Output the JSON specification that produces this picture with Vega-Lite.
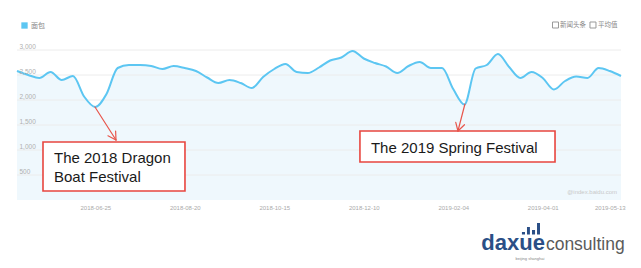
{
  "$schema": "https://vega.github.io/schema/vega-lite/v6.json",
  "width": 604,
  "height": 150,
  "autosize": {"type": "none"},
  "padding": {"left": 17, "top": 50, "right": 20, "bottom": 68},
  "background": "white",
  "config": {"view": {"stroke": null}, "axisY": {"labelOverlap": false}, "axisX": {"labelOverlap": false}},
  "datasets": {
    "series": [
      {"date": "2018-05-07", "value": 2580},
      {"date": "2018-05-14", "value": 2500},
      {"date": "2018-05-21", "value": 2440},
      {"date": "2018-05-28", "value": 2560},
      {"date": "2018-06-04", "value": 2400},
      {"date": "2018-06-11", "value": 2480},
      {"date": "2018-06-18", "value": 2070},
      {"date": "2018-06-25", "value": 1860},
      {"date": "2018-07-02", "value": 2120},
      {"date": "2018-07-09", "value": 2640},
      {"date": "2018-07-16", "value": 2700},
      {"date": "2018-07-23", "value": 2700},
      {"date": "2018-07-30", "value": 2680},
      {"date": "2018-08-06", "value": 2620},
      {"date": "2018-08-13", "value": 2680},
      {"date": "2018-08-20", "value": 2640},
      {"date": "2018-08-27", "value": 2580},
      {"date": "2018-09-03", "value": 2450},
      {"date": "2018-09-10", "value": 2340},
      {"date": "2018-09-17", "value": 2400},
      {"date": "2018-09-24", "value": 2340},
      {"date": "2018-10-01", "value": 2240},
      {"date": "2018-10-08", "value": 2460},
      {"date": "2018-10-15", "value": 2620},
      {"date": "2018-10-22", "value": 2720},
      {"date": "2018-10-29", "value": 2560},
      {"date": "2018-11-05", "value": 2540},
      {"date": "2018-11-12", "value": 2650},
      {"date": "2018-11-19", "value": 2790},
      {"date": "2018-11-26", "value": 2850},
      {"date": "2018-12-03", "value": 2980},
      {"date": "2018-12-10", "value": 2830},
      {"date": "2018-12-17", "value": 2740},
      {"date": "2018-12-24", "value": 2670},
      {"date": "2018-12-31", "value": 2540},
      {"date": "2019-01-07", "value": 2680},
      {"date": "2019-01-14", "value": 2760},
      {"date": "2019-01-21", "value": 2640},
      {"date": "2019-01-28", "value": 2640},
      {"date": "2019-02-04", "value": 2220},
      {"date": "2019-02-11", "value": 1910},
      {"date": "2019-02-18", "value": 2630},
      {"date": "2019-02-25", "value": 2700},
      {"date": "2019-03-04", "value": 2920},
      {"date": "2019-03-11", "value": 2660},
      {"date": "2019-03-18", "value": 2440},
      {"date": "2019-03-25", "value": 2560},
      {"date": "2019-04-01", "value": 2440},
      {"date": "2019-04-08", "value": 2210},
      {"date": "2019-04-15", "value": 2380},
      {"date": "2019-04-22", "value": 2470},
      {"date": "2019-04-29", "value": 2440},
      {"date": "2019-05-06", "value": 2640},
      {"date": "2019-05-13", "value": 2580},
      {"date": "2019-05-20", "value": 2480}
    ]
  },
  "encoding": {
    "x": {
      "field": "date", "type": "temporal", "title": null,
      "scale": {"type": "utc", "domain": [{"year": 2018, "month": 5, "date": 7, "utc": true}, {"year": 2019, "month": 5, "date": 20, "utc": true}]},
      "axis": {
        "values": [
          {"year": 2018, "month": 6, "date": 25, "utc": true},
          {"year": 2018, "month": 8, "date": 20, "utc": true},
          {"year": 2018, "month": 10, "date": 15, "utc": true},
          {"year": 2018, "month": 12, "date": 10, "utc": true},
          {"year": 2019, "month": 2, "date": 4, "utc": true},
          {"year": 2019, "month": 4, "date": 1, "utc": true},
          {"year": 2019, "month": 5, "date": 13, "utc": true}
        ],
        "format": "%Y-%m-%d", "domain": false, "ticks": false, "grid": false,
        "labelColor": "#aaaaaa", "labelFontSize": 6, "labelPadding": 4, "labelFont": "Liberation Sans"
      }
    },
    "y": {
      "field": "value", "type": "quantitative", "title": null,
      "scale": {"domain": [0, 3000], "nice": false},
      "axis": {
        "values": [500, 1000, 1500, 2000, 2500, 3000],
        "format": ",d",
        "domain": false, "ticks": false, "tickSize": 0, "grid": false, "zindex": 1,
        "labelAlign": "left", "labelBaseline": "bottom", "labelPadding": -2, "labelOffset": -1,
        "labelColor": "#b0b0b0", "labelFontSize": 6.5, "labelFont": "Liberation Sans"
      }
    }
  },
  "layer": [
    {
      "data": {"name": "series"},
      "mark": {"type": "area", "interpolate": "monotone", "color": "#eff8fd", "clip": false}
    },
    {
      "data": {"values": [
        {"date": "2018-05-07", "date2": "2019-05-20", "value": 500},
        {"date": "2018-05-07", "date2": "2019-05-20", "value": 1000},
        {"date": "2018-05-07", "date2": "2019-05-20", "value": 1500},
        {"date": "2018-05-07", "date2": "2019-05-20", "value": 2000},
        {"date": "2018-05-07", "date2": "2019-05-20", "value": 2500},
        {"date": "2018-05-07", "date2": "2019-05-20", "value": 3000}
      ]},
      "mark": {"type": "rule", "color": "#ececec", "strokeWidth": 1, "clip": false},
      "encoding": {"x2": {"field": "date2"}}
    },
    {
      "data": {"name": "series"},
      "mark": {"type": "line", "interpolate": "monotone", "strokeWidth": 2, "clip": false},
      "encoding": {
        "color": {
          "datum": "面包",
          "scale": {"range": ["#5cc6f2"]},
          "legend": {
            "orient": "none", "legendX": 4, "legendY": -28, "title": null,
            "symbolType": "square", "symbolSize": 40, "symbolFillColor": "#5cc6f2", "symbolStrokeWidth": 0,
            "labelFontSize": 7, "labelColor": "#888888", "labelFont": "Noto Sans CJK SC", "labelOffset": 3
          }
        }
      }
    },
    {
      "data": {"values": [
        {"date": "2018-05-23T06:30:00Z", "date2": "2018-08-20T03:00:00Z", "value": 1160, "value2": 180},
        {"date": "2018-12-07T15:00:00Z", "date2": "2019-04-08T17:00:00Z", "value": 1380, "value2": 760}
      ]},
      "mark": {"type": "rect", "fill": "white", "stroke": "#e8463f", "strokeWidth": 1.6, "clip": false},
      "encoding": {"x2": {"field": "date2"}, "y2": {"field": "value2"}}
    },
    {
      "data": {"values": [
        {"date": "2018-05-30T04:00:00Z", "value": 740, "label": ["The 2018 Dragon", "Boat Festival"]},
        {"date": "2018-12-14T12:00:00Z", "value": 940, "label": ["The 2019 Spring Festival"]}
      ]},
      "mark": {"type": "text", "align": "left", "baseline": "alphabetic", "font": "Liberation Sans", "fontSize": 15, "lineHeight": 18.5, "color": "#1a1a1a", "clip": false},
      "encoding": {"text": {"field": "label"}}
    },
    {
      "data": {"values": [
        {"date": "2018-06-24T19:00:00Z", "value": 1860, "date2": "2018-07-07T23:00:00Z", "value2": 1200},
        {"date": "2018-07-07T23:00:00Z", "value": 1200, "date2": "2018-07-07T17:00:00Z", "value2": 1380},
        {"date": "2018-07-07T23:00:00Z", "value": 1200, "date2": "2018-07-02T22:00:00Z", "value2": 1284},
        {"date": "2019-02-11T08:00:00Z", "value": 1920, "date2": "2019-02-06T23:00:00Z", "value2": 1380},
        {"date": "2019-02-06T23:00:00Z", "value": 1380, "date2": "2019-02-11T01:00:00Z", "value2": 1506},
        {"date": "2019-02-06T23:00:00Z", "value": 1380, "date2": "2019-02-05T14:00:00Z", "value2": 1554}
      ]},
      "mark": {"type": "rule", "color": "#e8564c", "strokeWidth": 1.2, "strokeCap": "round", "clip": false},
      "encoding": {"x2": {"field": "date2"}, "y2": {"field": "value2"}}
    },
    {
      "data": {"values": [
        {"date": "2019-04-09T00:00:00Z", "value": 3500},
        {"date": "2019-05-02T11:00:00Z", "value": 3500}
      ]},
      "mark": {"type": "point", "shape": "square", "filled": false, "stroke": "#999999", "strokeWidth": 1, "size": 36, "opacity": 1, "clip": false}
    },
    {
      "data": {"values": [
        {"date": "2019-04-11T19:00:00Z", "value": 3500, "label": "新闻头条"},
        {"date": "2019-05-05T14:00:00Z", "value": 3500, "label": "平均值"}
      ]},
      "mark": {"type": "text", "align": "left", "baseline": "middle", "font": "Noto Sans CJK SC", "fontSize": 6.5, "color": "#888888", "clip": false},
      "encoding": {"text": {"field": "label"}}
    },
    {
      "data": {"values": [
        {"date": "2019-05-17T12:00:00Z", "value": 160, "label": "@index.baidu.com"}
      ]},
      "mark": {"type": "text", "align": "right", "baseline": "middle", "font": "Liberation Sans", "fontSize": 6, "color": "#c8c8c8", "clip": false},
      "encoding": {"text": {"field": "label"}}
    },
    {
      "data": {"values": [
        {"date": "2019-03-19T00:00:00Z", "date2": "2019-03-20T22:00:00Z", "value": -640, "value2": -690},
        {"date": "2019-03-22T04:00:00Z", "date2": "2019-03-24T00:00:00Z", "value": -540, "value2": -690},
        {"date": "2019-03-25T07:00:00Z", "date2": "2019-03-27T05:00:00Z", "value": -600, "value2": -690},
        {"date": "2019-03-28T10:00:00Z", "date2": "2019-03-30T07:00:00Z", "value": -460, "value2": -690}
      ]},
      "mark": {"type": "rect", "fill": "#2b4f86", "clip": false},
      "encoding": {"x2": {"field": "date2"}, "y2": {"field": "value2"}}
    },
    {
      "data": {"values": [
        {"date": "2019-04-02T10:00:00Z", "value": -1000, "label": "daxue"}
      ]},
      "mark": {"type": "text", "align": "right", "baseline": "alphabetic", "font": "Liberation Sans", "fontSize": 22, "fontWeight": "bold", "color": "#2b4f86", "clip": false},
      "encoding": {"text": {"field": "label"}}
    },
    {
      "data": {"values": [
        {"date": "2019-04-03T00:00:00Z", "value": -1000, "label": "consulting"}
      ]},
      "mark": {"type": "text", "align": "left", "baseline": "alphabetic", "font": "Liberation Sans", "fontSize": 17.5, "color": "#5a5a5a", "clip": false},
      "encoding": {"text": {"field": "label"}}
    },
    {
      "data": {"values": [
        {"date": "2019-03-24T00:00:00Z", "value": -1180, "label": "beijing shanghai"}
      ]},
      "mark": {"type": "text", "align": "center", "baseline": "middle", "font": "Liberation Sans", "fontSize": 4, "color": "#888888", "clip": false},
      "encoding": {"text": {"field": "label"}}
    }
  ]
}
